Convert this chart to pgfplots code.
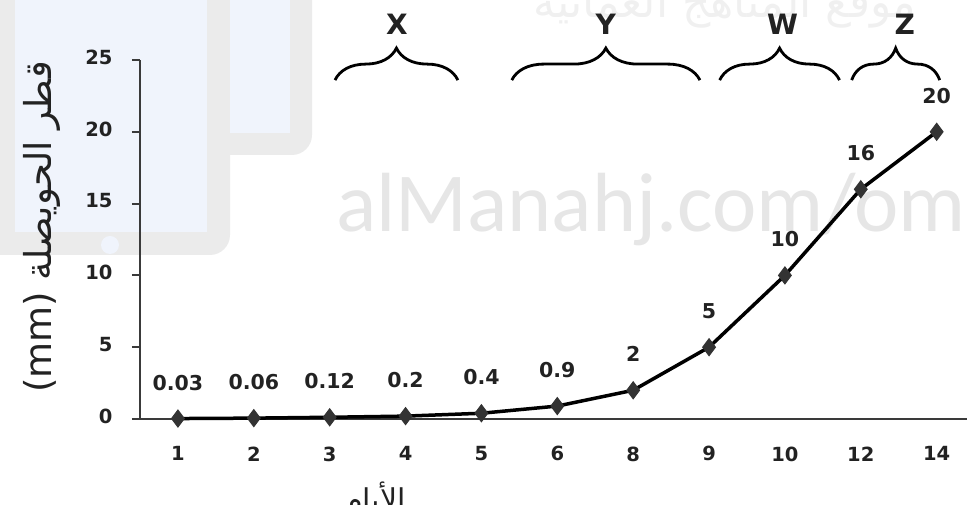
\documentclass[border=0pt]{standalone}
\usepackage{fontspec}
\setmainfont{DejaVu Sans}
\newfontfamily\arabicfont[Script=Arabic]{DejaVu Sans}
\newfontfamily\wmfont{Carlito}
\usepackage{pgfplots}
\pgfplotsset{compat=1.18}
\usetikzlibrary{decorations.pathreplacing}
\TeXXeTstate=1
\definecolor{logogray}{HTML}{EBEBEB}
\definecolor{logoblue}{HTML}{F0F4FC}
\definecolor{wmgray}{HTML}{E6E6E6}
\definecolor{axisgray}{HTML}{3A3A3A}
\definecolor{labelgray}{HTML}{222222}
\definecolor{markgray}{HTML}{333333}
\begin{document}
\begin{tikzpicture}[x=1pt,y=1pt]
\useasboundingbox (0,0) rectangle (967,505);
% background logo watermark
\fill[logogray, rounded corners=20pt] (200,530) rectangle (312,350);
\fill[logogray, rounded corners=20pt] (-30,530) rectangle (230,250);
\fill[logoblue] (230,530) rectangle (290,372);
\fill[logoblue] (15,530) rectangle (207,273);
\fill[logoblue] (110,260) circle (9);
\node[anchor=base west, text=wmgray, font=\wmfont\fontsize{84}{84}\selectfont, inner sep=0pt] at (336,273) {alManahj.com/om};
\node[anchor=base, text=wmgray!60, font=\arabicfont\fontsize{44}{44}\selectfont, inner sep=0pt] at (725,487) {\beginR موقع المناهج العمانية\endR};
% y label
\node[rotate=90, font=\arabicfont\fontsize{37}{37}\selectfont, text=labelgray] at (42,278) {(mm) \beginR قطر الحويصلة\endR};
% x label (cut off at the bottom edge)
\node[anchor=base, font=\arabicfont\fontsize{30}{30}\selectfont, text=labelgray, inner sep=0pt] at (375,-6) {\beginR الأيام\endR};
\begin{axis}[
  at={(140pt,86pt)}, anchor=south west,
  scale only axis, width=827pt, height=359pt,
  xmin=-0.5, xmax=10.4, ymin=0, ymax=25,
  axis x line=bottom, axis y line=left,
  axis line style={-, line width=2pt, color=axisgray},
  xtick={0,...,10}, xticklabels={1,2,3,4,5,6,8,9,10,12,14},
  ytick={0,5,10,15,20,25},
  x tick style={draw=none},
  y tick style={line width=2pt, color=axisgray},
  tick align=outside, major tick length=8pt,
  tick label style={font=\bfseries\fontsize{19.5}{19.5}\selectfont, text=labelgray},
  typeset ticklabels with strut,
  /pgf/number format/assume math mode=true,
  xticklabel style={yshift=-16pt},
  yticklabel style={xshift=-16pt},
  clip=false,
  every node near coord/.append style={anchor=center, yshift=36pt, font=\bfseries\fontsize{20.5}{20.5}\selectfont, text=labelgray},
]
\addplot[line width=3.5pt, black, mark=diamond*, mark size=8.5pt,
  mark options={fill=markgray, draw=markgray, line width=1pt},
  nodes near coords, point meta=explicit symbolic]
  coordinates {(0,0.03)[0.03] (1,0.06)[0.06] (2,0.12)[0.12] (3,0.2)[0.2]
               (4,0.4)[0.4] (5,0.9)[0.9] (6,2)[2] (7,5)[5]
               (8,10)[10] (9,16)[16] (10,20)[20]};
% braces
\draw[decorate, decoration={brace, amplitude=32pt}, line width=2.8pt] (axis cs:2.07,23.6) -- (axis cs:3.69,23.6);
\draw[decorate, decoration={brace, amplitude=32pt}, line width=2.8pt] (axis cs:4.40,23.6) -- (axis cs:6.88,23.6);
\draw[decorate, decoration={brace, amplitude=32pt}, line width=2.8pt] (axis cs:7.14,23.6) -- (axis cs:8.72,23.6);
\draw[decorate, decoration={brace, amplitude=32pt}, line width=2.8pt] (axis cs:8.88,23.6) -- (axis cs:10.04,23.6);
\node[font=\bfseries\fontsize{28}{28}\selectfont, text=labelgray] at (axis cs:2.885,27.5) {X};
\node[font=\bfseries\fontsize{28}{28}\selectfont, text=labelgray] at (axis cs:5.64,27.5) {Y};
\node[font=\bfseries\fontsize{28}{28}\selectfont, text=labelgray] at (axis cs:7.97,27.5) {W};
\node[font=\bfseries\fontsize{28}{28}\selectfont, text=labelgray] at (axis cs:9.58,27.5) {Z};
\end{axis}
\end{tikzpicture}
\end{document}
